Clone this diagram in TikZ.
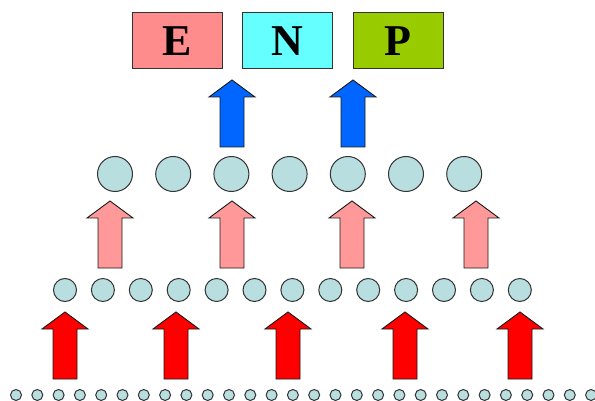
\documentclass[tikz,border=0pt]{standalone}
\usepackage{fontspec}
\setmainfont{Liberation Serif}
\definecolor{cellfill}{RGB}{184,222,224}
\definecolor{efill}{RGB}{255,140,140}
\definecolor{nfill}{RGB}{102,255,255}
\definecolor{pfill}{RGB}{153,204,0}
\definecolor{lowarrow}{RGB}{255,0,0}
\definecolor{midarrow}{RGB}{255,153,153}
\definecolor{toparrow}{RGB}{0,102,255}
\begin{document}
\begin{tikzpicture}[x=1pt,y=-1pt,
  unit/.style={circle, draw=black!80, line width=1pt, fill=cellfill, inner sep=0pt, minimum size=#1},
  labelbox/.style={draw=black!80, line width=1pt, minimum width=90pt, minimum height=56pt,
    inner sep=0pt, font=\fontsize{44}{44}\selectfont\bfseries},
  blockup/.pic={\draw[pic actions, draw=black!90, line width=0.9pt, line join=miter]
    (-12,0) -- (-12,-50) -- (-23,-50) -- (0,-67) -- (23,-50) -- (12,-50) -- (12,0) -- cycle;}
]
\useasboundingbox (0,0) rectangle (595,401);

% output labels
\node[labelbox, fill=efill] (E) at (177,41) {\raisebox{-2pt}{E}};
\node[labelbox, fill=nfill] (N) at (287,41) {\raisebox{-2pt}{N}};
\node[labelbox, fill=pfill] (P) at (398,41) {\raisebox{-2pt}{P}};

% three layers of units
\foreach \i in {0,...,27} \node[unit=11pt] (s\i) at ({16+21.3*\i},395) {};
\foreach \i in {0,...,12} \node[unit=23pt] (m\i) at ({65+37.9*\i},290) {};
\foreach \i in {0,...,6}  \node[unit=35pt] (t\i) at ({115+58.2*\i},174) {};

% upward block arrows between layers
\foreach \x in {65,176,288,405,520} \pic[fill=lowarrow] at (\x,379) {blockup};
\foreach \x in {110,232,352,476}    \pic[fill=midarrow] at (\x,268) {blockup};
\foreach \x in {232,353}            \pic[fill=toparrow] at (\x,147) {blockup};
\end{tikzpicture}
\end{document}
